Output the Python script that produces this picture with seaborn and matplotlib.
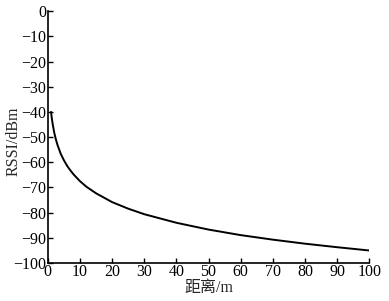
import matplotlib
matplotlib.use("Agg")
import matplotlib.pyplot as plt
import seaborn as sns
import pandas as pd

# Values
distance_m = [1, 1.2, 1.5, 2, 2.5, 3, 4, 5, 6, 7, 8, 10, 12, 15, 20, 25, 30, 40, 50, 60, 70, 80, 90, 100]
rssi_dbm = [-40.0, -42.2, -44.8, -48.3, -50.9, -53.1, -56.6, -59.2, -61.4, -63.2, -64.8, -67.5,
            -69.7, -72.3, -75.8, -78.4, -80.6, -84.0, -86.7, -88.9, -90.7, -92.3, -93.7, -95.0]
x_ticks = [0, 10, 20, 30, 40, 50, 60, 70, 80, 90, 100]
y_ticks = [0, -10, -20, -30, -40, -50, -60, -70, -80, -90, -100]
x_label = "距离/m"
y_label = "RSSI/dBm"

sns.set_style("ticks")
plt.rcParams["font.family"] = ["Liberation Serif", "Noto Sans CJK SC"]
plt.rcParams["axes.unicode_minus"] = True

df = pd.DataFrame({"d": distance_m, "rssi": rssi_dbm})

fig = plt.figure(figsize=(3.89, 3.01), dpi=100)
ax = fig.add_axes([0.123, 0.126, 0.826, 0.837])
sns.lineplot(data=df, x="d", y="rssi", ax=ax, color="black", linewidth=1.4)

ax.set_xlim(0, 100)
ax.set_ylim(-100, 0)
ax.set_xticks(x_ticks)
ax.set_yticks(y_ticks)
ax.tick_params(direction="in", length=3.5, width=1.0, labelsize=11.5, colors="black", pad=1)
for s in ["top", "right"]:
    ax.spines[s].set_visible(False)
for s in ["left", "bottom"]:
    ax.spines[s].set_linewidth(1.2)
    ax.spines[s].set_color("black")
ax.set_xlabel(x_label, fontsize=11.5, labelpad=0)
ax.set_ylabel(y_label, fontsize=11.5)
ax.yaxis.set_label_coords(-0.082, 0.485)
ax.grid(False)

fig.savefig("out.png", dpi=100)
